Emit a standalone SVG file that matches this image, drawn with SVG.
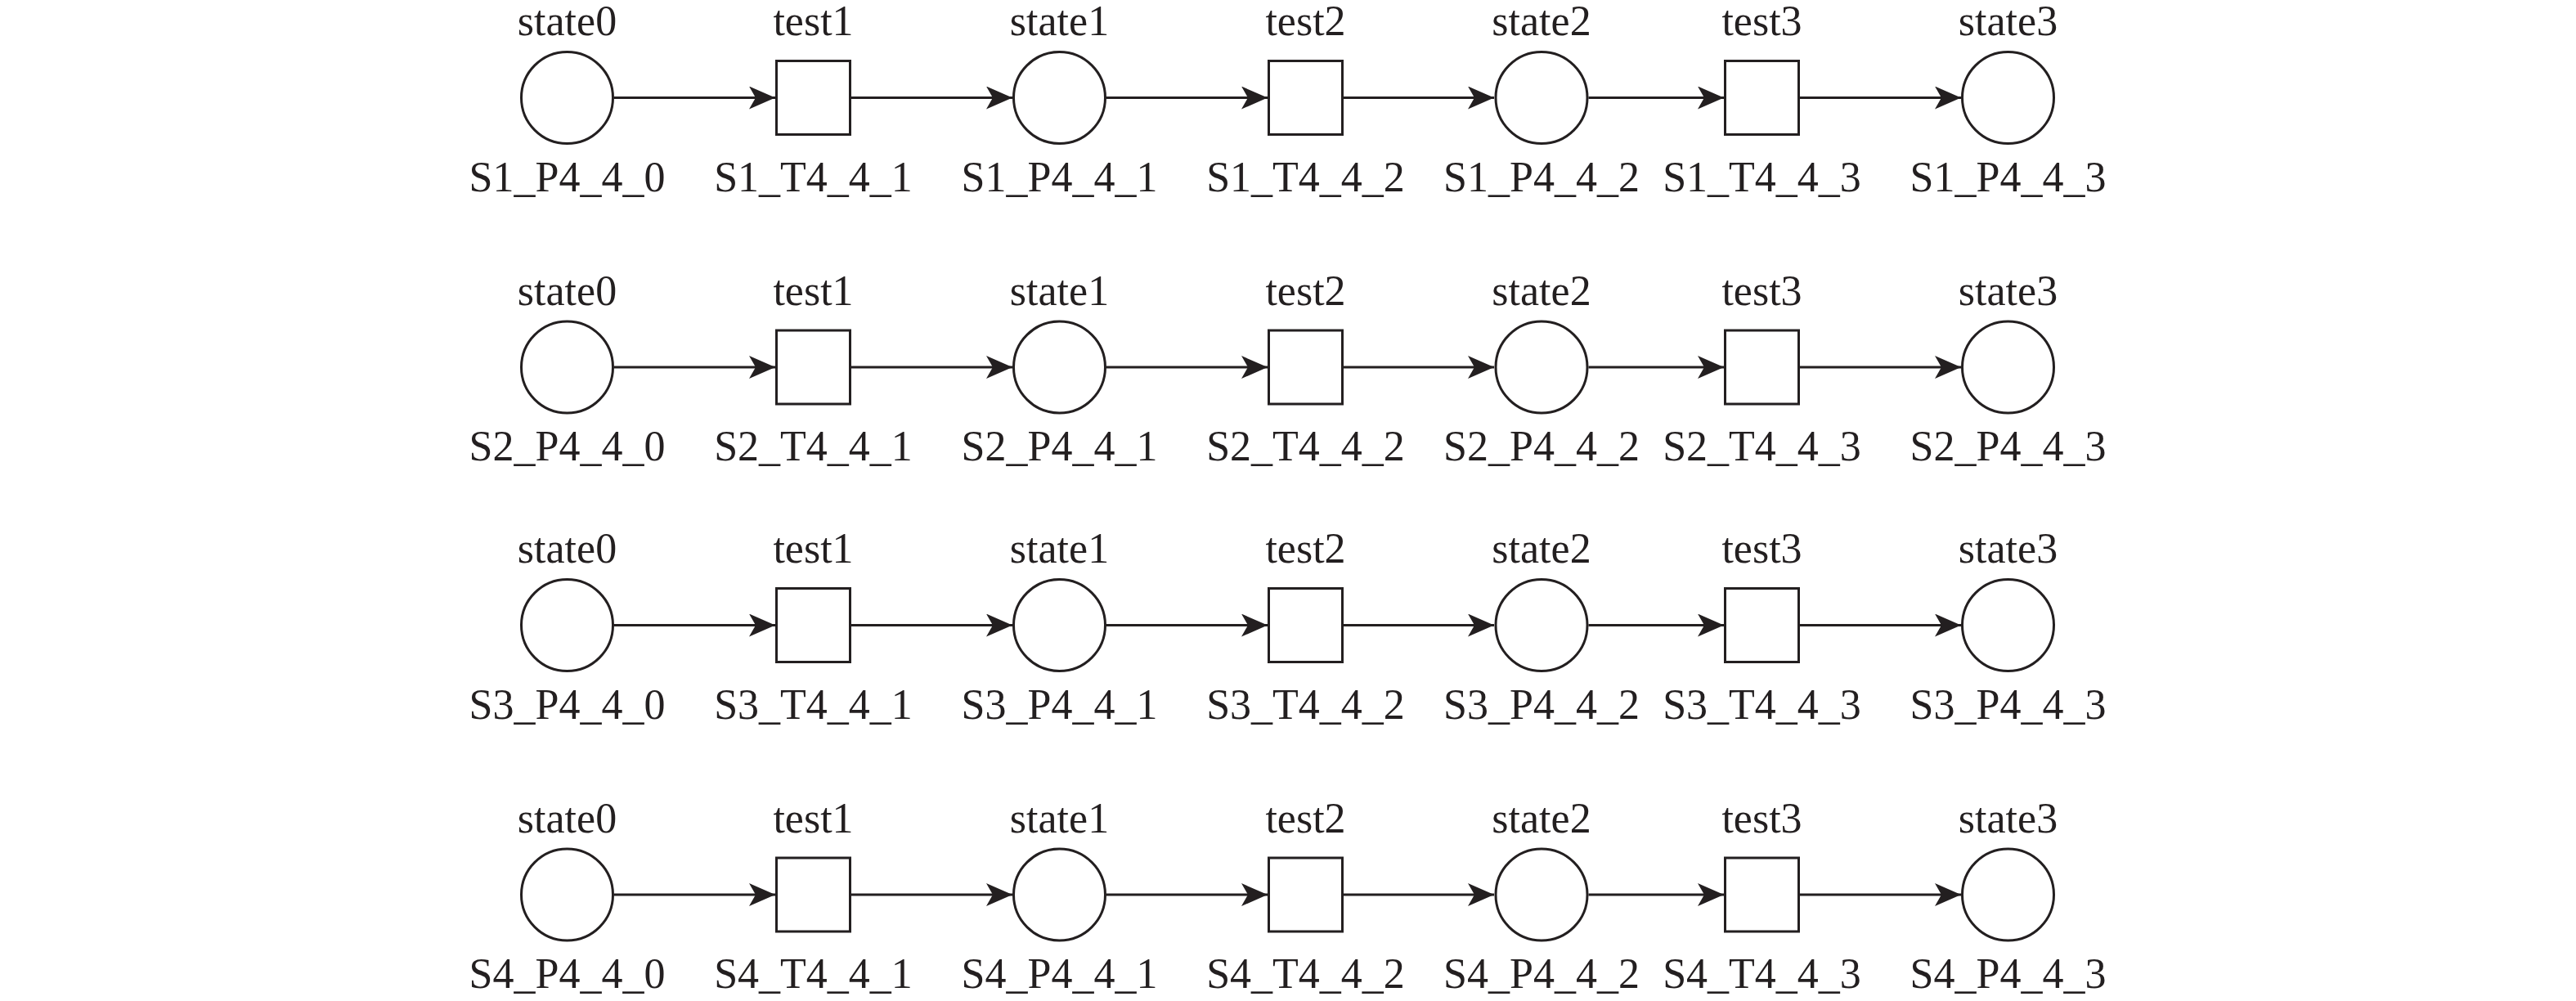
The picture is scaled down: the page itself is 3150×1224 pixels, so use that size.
<svg xmlns="http://www.w3.org/2000/svg" width="3150" height="1224" viewBox="0 0 3150 1224">
<style>
.p{fill:#fff;stroke:#231f20;stroke-width:3}
.t{fill:#fff;stroke:#231f20;stroke-width:3}
.e{stroke:#231f20;stroke-width:3;fill:none;marker-end:url(#ah)}
text{font-family:"Liberation Serif","Times New Roman",serif;font-size:52px;fill:#231f20;text-anchor:middle}
</style>
<defs>
<marker id="ah" viewBox="-33 -14 34 28" refX="0" refY="0" markerWidth="34" markerHeight="28" markerUnits="userSpaceOnUse" orient="auto">
<path d="M0,0 L-32,-14 L-24,0 L-32,14 Z" fill="#231f20"/>
</marker>
</defs>
<rect width="3150" height="1224" fill="#fff"/>
<g id="connectors">
<path class="e" d="M751,119.5H948"/><path class="e" d="M1041,119.5H1238"/><path class="e" d="M1353,119.5H1550"/><path class="e" d="M1643,119.5H1827"/><path class="e" d="M1942.5,119.5H2108"/><path class="e" d="M2201,119.5H2398"/>
<path class="e" d="M751,449H948"/><path class="e" d="M1041,449H1238"/><path class="e" d="M1353,449H1550"/><path class="e" d="M1643,449H1827"/><path class="e" d="M1942.5,449H2108"/><path class="e" d="M2201,449H2398"/>
<path class="e" d="M751,764.5H948"/><path class="e" d="M1041,764.5H1238"/><path class="e" d="M1353,764.5H1550"/><path class="e" d="M1643,764.5H1827"/><path class="e" d="M1942.5,764.5H2108"/><path class="e" d="M2201,764.5H2398"/>
<path class="e" d="M751,1094H948"/><path class="e" d="M1041,1094H1238"/><path class="e" d="M1353,1094H1550"/><path class="e" d="M1643,1094H1827"/><path class="e" d="M1942.5,1094H2108"/><path class="e" d="M2201,1094H2398"/>
</g>
<g id="S1_P4_4_0"><circle class="p" cx="693.5" cy="119.5" r="56"/><text x="693.5" y="43">state0</text><text x="693.5" y="233.5">S1_P4_4_0</text></g>
<g id="S1_T4_4_1"><rect class="t" x="949.5" y="74.5" width="90" height="90"/><text x="994.5" y="43">test1</text><text x="994.5" y="233.5">S1_T4_4_1</text></g>
<g id="S1_P4_4_1"><circle class="p" cx="1295.5" cy="119.5" r="56"/><text x="1295.5" y="43">state1</text><text x="1295.5" y="233.5">S1_P4_4_1</text></g>
<g id="S1_T4_4_2"><rect class="t" x="1551.5" y="74.5" width="90" height="90"/><text x="1596.5" y="43">test2</text><text x="1596.5" y="233.5">S1_T4_4_2</text></g>
<g id="S1_P4_4_2"><circle class="p" cx="1885" cy="119.5" r="56"/><text x="1885" y="43">state2</text><text x="1885" y="233.5">S1_P4_4_2</text></g>
<g id="S1_T4_4_3"><rect class="t" x="2109.5" y="74.5" width="90" height="90"/><text x="2154.5" y="43">test3</text><text x="2154.5" y="233.5">S1_T4_4_3</text></g>
<g id="S1_P4_4_3"><circle class="p" cx="2455.5" cy="119.5" r="56"/><text x="2455.5" y="43">state3</text><text x="2455.5" y="233.5">S1_P4_4_3</text></g>

<g id="S2_P4_4_0"><circle class="p" cx="693.5" cy="449" r="56"/><text x="693.5" y="372.5">state0</text><text x="693.5" y="563">S2_P4_4_0</text></g>
<g id="S2_T4_4_1"><rect class="t" x="949.5" y="404" width="90" height="90"/><text x="994.5" y="372.5">test1</text><text x="994.5" y="563">S2_T4_4_1</text></g>
<g id="S2_P4_4_1"><circle class="p" cx="1295.5" cy="449" r="56"/><text x="1295.5" y="372.5">state1</text><text x="1295.5" y="563">S2_P4_4_1</text></g>
<g id="S2_T4_4_2"><rect class="t" x="1551.5" y="404" width="90" height="90"/><text x="1596.5" y="372.5">test2</text><text x="1596.5" y="563">S2_T4_4_2</text></g>
<g id="S2_P4_4_2"><circle class="p" cx="1885" cy="449" r="56"/><text x="1885" y="372.5">state2</text><text x="1885" y="563">S2_P4_4_2</text></g>
<g id="S2_T4_4_3"><rect class="t" x="2109.5" y="404" width="90" height="90"/><text x="2154.5" y="372.5">test3</text><text x="2154.5" y="563">S2_T4_4_3</text></g>
<g id="S2_P4_4_3"><circle class="p" cx="2455.5" cy="449" r="56"/><text x="2455.5" y="372.5">state3</text><text x="2455.5" y="563">S2_P4_4_3</text></g>

<g id="S3_P4_4_0"><circle class="p" cx="693.5" cy="764.5" r="56"/><text x="693.5" y="688">state0</text><text x="693.5" y="878.5">S3_P4_4_0</text></g>
<g id="S3_T4_4_1"><rect class="t" x="949.5" y="719.5" width="90" height="90"/><text x="994.5" y="688">test1</text><text x="994.5" y="878.5">S3_T4_4_1</text></g>
<g id="S3_P4_4_1"><circle class="p" cx="1295.5" cy="764.5" r="56"/><text x="1295.5" y="688">state1</text><text x="1295.5" y="878.5">S3_P4_4_1</text></g>
<g id="S3_T4_4_2"><rect class="t" x="1551.5" y="719.5" width="90" height="90"/><text x="1596.5" y="688">test2</text><text x="1596.5" y="878.5">S3_T4_4_2</text></g>
<g id="S3_P4_4_2"><circle class="p" cx="1885" cy="764.5" r="56"/><text x="1885" y="688">state2</text><text x="1885" y="878.5">S3_P4_4_2</text></g>
<g id="S3_T4_4_3"><rect class="t" x="2109.5" y="719.5" width="90" height="90"/><text x="2154.5" y="688">test3</text><text x="2154.5" y="878.5">S3_T4_4_3</text></g>
<g id="S3_P4_4_3"><circle class="p" cx="2455.5" cy="764.5" r="56"/><text x="2455.5" y="688">state3</text><text x="2455.5" y="878.5">S3_P4_4_3</text></g>

<g id="S4_P4_4_0"><circle class="p" cx="693.5" cy="1094" r="56"/><text x="693.5" y="1017.5">state0</text><text x="693.5" y="1208">S4_P4_4_0</text></g>
<g id="S4_T4_4_1"><rect class="t" x="949.5" y="1049" width="90" height="90"/><text x="994.5" y="1017.5">test1</text><text x="994.5" y="1208">S4_T4_4_1</text></g>
<g id="S4_P4_4_1"><circle class="p" cx="1295.5" cy="1094" r="56"/><text x="1295.5" y="1017.5">state1</text><text x="1295.5" y="1208">S4_P4_4_1</text></g>
<g id="S4_T4_4_2"><rect class="t" x="1551.5" y="1049" width="90" height="90"/><text x="1596.5" y="1017.5">test2</text><text x="1596.5" y="1208">S4_T4_4_2</text></g>
<g id="S4_P4_4_2"><circle class="p" cx="1885" cy="1094" r="56"/><text x="1885" y="1017.5">state2</text><text x="1885" y="1208">S4_P4_4_2</text></g>
<g id="S4_T4_4_3"><rect class="t" x="2109.5" y="1049" width="90" height="90"/><text x="2154.5" y="1017.5">test3</text><text x="2154.5" y="1208">S4_T4_4_3</text></g>
<g id="S4_P4_4_3"><circle class="p" cx="2455.5" cy="1094" r="56"/><text x="2455.5" y="1017.5">state3</text><text x="2455.5" y="1208">S4_P4_4_3</text></g>
</svg>
